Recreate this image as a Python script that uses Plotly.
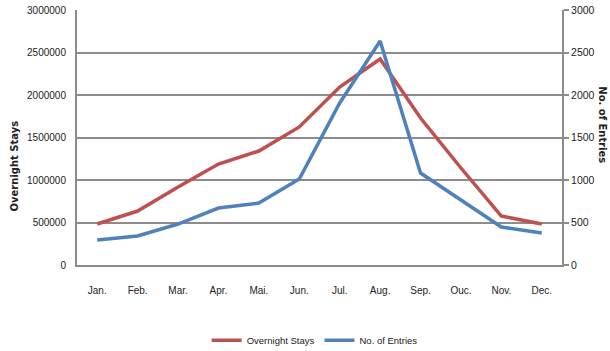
import plotly.graph_objects as go

months = ["Jan.", "Feb.", "Mar.", "Apr.", "Mai.", "Jun.", "Jul.", "Aug.", "Sep.", "Ouc.", "Nov.", "Dec."]
overnight_stays = [482000, 635000, 918000, 1188000, 1341000, 1624000, 2094000, 2424000, 1729000, 1141000, 576000, 482000]
entries = [294, 341, 482, 670, 729, 1012, 1906, 2635, 1082, 765, 447, 376]

left_ticks = [0, 500000, 1000000, 1500000, 2000000, 2500000, 3000000]
right_ticks = [0, 500, 1000, 1500, 2000, 2500, 3000]

RED = "#C0504D"
BLUE = "#4F81BD"
GRID = "#8c8c8c"
FONT = "Liberation Sans, Arial, sans-serif"
TITLE_FONT = "DejaVu Sans, sans-serif"

fig = go.Figure()
fig.add_trace(go.Scatter(x=months, y=overnight_stays, name="Overnight Stays",
                         mode="lines", line=dict(color=RED, width=3.5), yaxis="y"))
fig.add_trace(go.Scatter(x=months, y=entries, name="No. of Entries",
                         mode="lines", line=dict(color=BLUE, width=3.5), yaxis="y2"))

fig.update_layout(
    width=610, height=351,
    margin=dict(l=77, r=48, t=10, b=86, autoexpand=False),
    paper_bgcolor="white", plot_bgcolor="white",
    font=dict(family=FONT, size=10, color="#222"),
    showlegend=True,
    legend=dict(orientation="h", x=0.49, xanchor="center", y=-0.295, yanchor="middle",
                font=dict(size=9.5), itemwidth=30, traceorder="normal"),
    xaxis=dict(type="category", range=[-0.5, 11.5], showgrid=False, showline=True,
               linecolor=GRID, linewidth=2, ticks="", tickfont=dict(size=10),
               ticklabelstandoff=15),
    yaxis=dict(range=[0, 3000000], tickvals=left_ticks, ticktext=[str(v) for v in left_ticks],
               showgrid=True, gridcolor=GRID, gridwidth=2, showline=True, linecolor=GRID,
               linewidth=2, ticks="", zeroline=False, tickfont=dict(size=10),
               ticklabelstandoff=7),
    yaxis2=dict(range=[0, 3000], tickvals=right_ticks, ticktext=[str(v) for v in right_ticks],
                overlaying="y", side="right", showgrid=False, showline=True, linecolor=GRID,
                linewidth=2, ticks="outside", ticklen=5, tickcolor=GRID, tickwidth=2,
                zeroline=False, tickfont=dict(size=10.5)),
)

# Axis titles placed as rotated annotations
fig.add_annotation(text="<b>Overnight Stays</b>", xref="paper", yref="paper",
                   x=-0.128, y=0.39, textangle=-90, showarrow=False,
                   xanchor="center", yanchor="middle",
                   font=dict(family=TITLE_FONT, size=10, color="#222"))
fig.add_annotation(text="<b>No. of Entries</b>", xref="paper", yref="paper",
                   x=1.068, y=0.55, textangle=90, showarrow=False,
                   xanchor="left", yanchor="middle",
                   font=dict(family=TITLE_FONT, size=10, color="#222"))

fig.write_html("out.html")
